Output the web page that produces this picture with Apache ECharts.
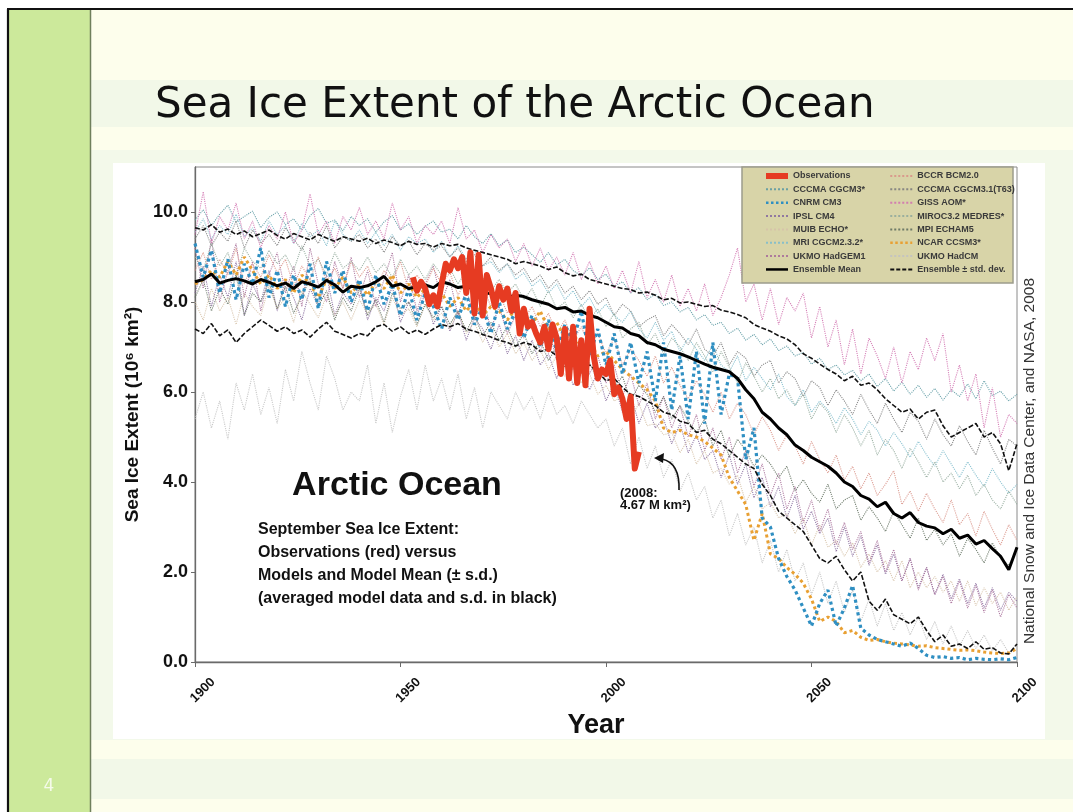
<!DOCTYPE html>
<html>
<head>
<meta charset="utf-8">
<script src="https://cdn.jsdelivr.net/npm/echarts@6/dist/echarts.min.js"></script>
<style>
  html, body { margin: 0; padding: 0; background: #ffffff; }
  #chart { width: 1073px; height: 812px; }
</style>
</head>
<body>
<div id="chart"></div>
<script>
// ---- Sea ice extent data, millions of km² (September) ----
// Model runs are sampled every second year, 1900–2100.
const MODEL_START = 1900;
const MODEL_STEP = 2;
const OBS_START = 1953;

const xTicks = [1900, 1950, 2000, 2050, 2100];
const yTicks = [0, 2, 4, 6, 8, 10];

// Observations, yearly 1953–2008
const observations = [
  8.55, 8.25, 8.45, 8.30, 7.95, 8.15, 7.90, 8.40, 8.85, 8.70,
  8.95, 8.75, 9.00, 8.20, 9.10, 7.75, 9.05, 7.70, 8.60, 8.30,
  7.90, 8.35, 8.05, 8.30, 7.80, 8.20, 7.30, 7.85, 7.45, 7.55,
  7.30, 7.10, 7.45, 6.95, 7.50, 7.20, 6.40, 7.40, 6.30, 7.45,
  6.20, 7.15, 6.15, 7.85, 6.80, 6.30, 6.50, 6.40, 6.70, 5.95,
  6.10, 5.85, 5.40, 5.90, 4.30, 4.67
];

const ensembleMean = [
  8.45, 8.50, 8.62, 8.42, 8.48, 8.52, 8.47, 8.40, 8.50, 8.44,
  8.36, 8.42, 8.30, 8.45, 8.40, 8.33, 8.48, 8.38, 8.22, 8.35,
  8.32, 8.36, 8.45, 8.57, 8.35, 8.40, 8.30, 8.34, 8.38, 8.32,
  8.45, 8.40, 8.32, 8.35, 8.28, 8.22, 8.18, 8.20, 8.10, 8.15,
  8.12, 8.05, 8.00, 7.95, 7.85, 7.88, 7.78, 7.80, 7.70, 7.65,
  7.55, 7.45, 7.42, 7.30, 7.25, 7.10, 7.05, 6.95, 6.90, 6.85,
  6.78, 6.70, 6.62, 6.55, 6.50, 6.45, 6.30, 6.05, 5.85, 5.55,
  5.40, 5.20, 5.05, 4.82, 4.70, 4.55, 4.45, 4.35, 4.20, 4.00,
  3.90, 3.70, 3.62, 3.45, 3.55, 3.30, 3.20, 3.32, 3.10, 3.02,
  2.98, 2.85, 2.95, 2.75, 2.82, 2.62, 2.70, 2.52, 2.35, 2.05,
  2.55
];

const ensembleUpper = [
  9.65, 9.60, 9.72, 9.55, 9.62, 9.50, 9.58, 9.45, 9.52, 9.60,
  9.48, 9.40, 9.52, 9.45, 9.38, 9.50, 9.42, 9.35, 9.45, 9.40,
  9.35, 9.42, 9.30, 9.38, 9.32, 9.25, 9.35, 9.28, 9.30, 9.22,
  9.30, 9.25, 9.28, 9.20, 9.15, 9.10, 9.05, 9.00, 8.95, 8.85,
  8.90, 8.85, 8.80, 8.72, 8.78, 8.65, 8.58, 8.62, 8.50, 8.45,
  8.40, 8.35, 8.30, 8.28, 8.20, 8.22, 8.15, 8.05, 8.08, 7.98,
  8.00, 7.95, 7.90, 7.92, 7.82, 7.78, 7.72, 7.65, 7.50, 7.42,
  7.35, 7.25, 7.18, 7.05, 6.85, 6.75, 6.62, 6.50, 6.40, 6.25,
  6.35, 6.15, 6.20, 6.05, 5.85, 5.70, 5.55, 5.62, 5.40, 5.55,
  5.60, 5.25, 5.00, 5.10, 5.20, 5.30, 5.00, 5.10, 4.85, 4.25,
  4.85
];

const ensembleLower = [
  7.40, 7.30, 7.52, 7.25, 7.38, 7.10, 7.30, 7.45, 7.60, 7.48,
  7.35, 7.45, 7.30, 7.38, 7.22, 7.40, 7.55, 7.35, 7.28, 7.20,
  7.30, 7.25, 7.45, 7.50, 7.35, 7.45, 7.30, 7.38, 7.28, 7.40,
  7.50, 7.45, 7.52, 7.40, 7.35, 7.28, 7.22, 7.15, 7.10, 7.02,
  7.10, 7.05, 6.90, 6.95, 6.80, 6.70, 6.75, 6.55, 6.60, 6.45,
  6.25, 6.30, 6.10, 5.95, 5.90, 5.80, 5.70, 5.55, 5.50, 5.35,
  5.30, 5.10, 5.15, 4.95, 4.85, 4.70, 4.55, 4.40, 4.30, 3.95,
  3.70, 3.35, 3.20, 3.05, 2.90, 2.60, 2.30, 2.20, 2.35, 2.05,
  1.80, 2.00, 1.35, 1.15, 1.40, 1.05, 0.95, 0.85, 1.00, 0.70,
  0.45, 0.60, 0.35, 0.40, 0.30, 0.45, 0.28, 0.32, 0.20, 0.18,
  0.40
];

// Individual model runs
const cccmaCgcm3 = [
  9.82, 10.05, 9.70, 9.95, 10.15, 9.78, 9.90, 10.02, 9.65, 9.88,
  10.00, 9.72, 9.85, 9.60, 9.92, 10.08, 9.75, 9.82, 9.58, 9.90,
  9.70, 9.85, 9.55, 9.78, 9.92, 9.60, 9.74, 9.50, 9.68, 9.80,
  9.55, 9.62, 9.40, 9.70, 9.45, 9.30, 9.52, 9.25, 9.38, 9.10,
  9.22, 9.05, 8.88, 9.10, 8.82, 8.95, 8.70, 8.58, 8.76, 8.50,
  8.62, 8.35, 8.45, 8.20, 8.32, 8.05, 8.18, 7.92, 8.00, 7.78,
  7.88, 7.60, 7.72, 7.48, 7.55, 7.30, 7.42, 7.15, 7.28, 7.05,
  7.18, 6.92, 7.02, 6.80, 6.88, 6.62, 6.75, 6.50, 6.60, 6.38,
  6.48, 6.25, 6.40, 6.12, 6.30, 6.02, 6.22, 5.95, 6.15, 5.88,
  6.08, 5.82, 6.05, 5.90, 6.18, 5.85, 6.25, 5.92, 6.02, 5.80,
  5.95
];

const cnrmCm3 = [
  9.30, 8.55, 9.15, 8.20, 8.95, 8.05, 8.85, 8.40, 9.20, 8.10,
  8.70, 7.90, 8.60, 8.05, 8.85, 7.85, 8.90, 8.20, 8.70, 8.00,
  8.50, 7.80, 8.60, 7.95, 8.40, 7.70, 8.30, 7.60, 8.20, 7.90,
  7.40, 8.10, 7.60, 8.20, 7.50, 7.90, 7.30, 8.00, 7.40, 7.80,
  7.20, 7.70, 7.00, 7.60, 6.90, 7.50, 7.10, 7.80, 6.80, 7.40,
  6.60, 7.30, 6.40, 7.10, 6.20, 6.90, 5.80, 7.10, 5.60, 6.80,
  5.40, 6.90, 5.30, 7.10, 5.50, 6.40, 6.30, 4.50, 5.20, 3.20,
  3.00, 2.30, 1.90, 1.60, 1.20, 0.80, 1.30, 1.60, 0.80, 1.20,
  1.70, 0.75, 0.60, 0.50, 0.45, 0.40, 0.35, 0.42, 0.30, 0.15,
  0.10, 0.12, 0.08, 0.10, 0.05, 0.08, 0.06, 0.05, 0.07, 0.05,
  0.10
];

const ipslCm4 = [
  8.20, 8.80, 7.90, 8.60, 8.10, 8.90, 7.70, 8.40, 8.00, 8.70,
  7.80, 8.50, 8.10, 7.60, 8.30, 7.90, 8.60, 7.70, 8.20, 7.95,
  8.40, 7.60, 8.10, 7.80, 8.35, 7.55, 8.00, 7.70, 8.20, 7.50,
  7.90, 7.35, 7.80, 7.15, 7.65, 7.40, 6.95, 7.50, 6.85, 7.25,
  6.70, 7.15, 6.60, 6.85, 6.30, 6.80, 6.15, 6.50, 6.05, 6.45,
  5.80, 6.20, 5.55, 5.95, 5.30, 5.75, 5.20, 5.40, 4.85, 5.30,
  4.65, 5.05, 4.50, 4.70, 4.10, 4.60, 3.95, 4.40, 3.65, 4.10,
  3.45, 3.90, 3.20, 3.70, 2.95, 3.35, 2.85, 3.20, 2.45, 3.00,
  2.35, 2.80, 2.15, 2.60, 1.95, 2.40, 1.80, 2.30, 1.65, 2.10,
  1.50, 1.95, 1.40, 1.85, 1.30, 1.75, 1.20, 1.65, 1.15, 1.55,
  1.35
];

const muibEcho = [
  8.00, 7.60, 8.30, 7.80, 8.10, 7.50, 8.20, 7.90, 7.70, 8.35,
  7.85, 8.10, 7.55, 8.25, 7.95, 7.65, 8.15, 7.70, 8.00, 7.60,
  8.05, 7.75, 7.95, 7.50, 8.10, 7.70, 7.85, 7.45, 7.95, 7.60,
  7.75, 7.40, 7.80, 7.30, 7.55, 7.10, 7.45, 7.00, 7.30, 6.85,
  7.10, 6.70, 6.95, 6.50, 6.80, 6.35, 6.60, 6.20, 6.40, 5.95,
  6.15, 5.80, 5.90, 5.40, 5.75, 5.25, 5.30, 5.05, 5.10, 4.65,
  4.95, 4.40, 4.70, 4.20, 4.30, 3.95, 4.15, 3.55, 3.90, 3.40,
  3.55, 3.20, 3.30, 2.85, 3.20, 2.60, 3.05, 2.55, 2.70, 2.35,
  2.65, 2.10, 2.40, 2.00, 2.25, 1.80, 2.25, 1.65, 2.00, 1.65,
  1.90, 1.55, 1.80, 1.35, 1.80, 1.25, 1.65, 1.30, 1.55, 1.15,
  1.45
];

const mriCgcm232 = [
  9.55, 9.85, 9.40, 9.70, 9.50, 9.95, 9.45, 9.65, 9.35, 9.80,
  9.50, 9.70, 9.30, 9.75, 9.45, 9.60, 9.25, 9.80, 9.50, 9.35,
  9.60, 9.30, 9.55, 9.25, 9.50, 9.15, 9.45, 9.30, 9.40, 9.10,
  9.35, 9.00, 9.25, 8.95, 9.15, 8.80, 8.90, 8.65, 8.85, 8.50,
  8.65, 8.35, 8.50, 8.20, 8.40, 8.05, 8.25, 7.90, 8.10, 7.75,
  7.95, 7.70, 7.55, 7.80, 7.40, 7.20, 7.55, 7.15, 7.35, 6.90,
  7.20, 6.95, 6.70, 7.05, 6.60, 6.45, 6.80, 6.25, 6.55, 6.30,
  6.05, 6.40, 5.90, 5.70, 6.05, 5.55, 5.80, 5.60, 5.30, 5.65,
  5.40, 5.05, 5.35, 5.15, 4.80, 5.10, 4.85, 4.55, 4.90, 4.60,
  4.35, 4.70, 4.40, 4.10, 4.45, 4.15, 3.90, 4.30, 4.00, 3.75,
  3.95
];

const ukmoHadgem1 = [
  9.20, 8.30, 9.40, 8.00, 8.70, 9.30, 8.10, 8.90, 7.80, 8.60,
  9.10, 8.20, 8.80, 7.90, 9.20, 8.40, 8.00, 8.90, 8.30, 9.00,
  8.10, 8.70, 7.90, 8.50, 9.10, 8.00, 8.60, 7.80, 8.40, 8.80,
  8.00, 8.50, 7.70, 8.30, 7.60, 8.10, 7.40, 7.90, 7.30, 7.70,
  7.20, 7.60, 6.90, 7.40, 6.70, 7.20, 6.50, 7.00, 6.40, 6.80,
  6.20, 6.60, 5.90, 6.40, 5.70, 6.20, 5.40, 5.90, 5.20, 5.70,
  5.00, 5.50, 4.70, 5.20, 4.50, 5.00, 4.20, 4.70, 3.90, 4.40,
  3.70, 4.20, 3.40, 3.90, 3.10, 3.60, 2.90, 3.40, 2.60, 3.10,
  2.50, 2.90, 2.20, 2.70, 2.00, 2.50, 1.80, 2.30, 1.60, 2.10,
  1.50, 1.90, 1.30, 1.80, 1.20, 1.70, 1.10, 1.60, 1.00, 1.50,
  1.20
];

const bccrBcm2 = [
  8.70, 9.10, 8.50, 8.95, 8.60, 9.20, 8.40, 8.85, 8.55, 9.05,
  8.65, 8.95, 8.35, 8.80, 8.50, 9.00, 8.45, 8.75, 8.30, 8.90,
  8.55, 8.80, 8.30, 8.70, 8.45, 8.90, 8.25, 8.60, 8.35, 8.75,
  8.40, 8.65, 8.15, 8.50, 8.05, 8.35, 7.90, 8.20, 7.75, 8.05,
  7.60, 7.90, 7.45, 7.75, 7.30, 7.60, 7.15, 7.45, 7.00, 7.30,
  6.85, 7.20, 6.60, 6.95, 6.70, 6.35, 6.80, 6.20, 6.55, 6.15,
  5.85, 6.25, 5.95, 5.55, 6.00, 5.40, 5.75, 5.50, 5.05, 5.45,
  5.15, 4.70, 5.05, 4.80, 4.40, 4.90, 4.50, 4.20, 4.60, 4.05,
  4.35, 3.85, 4.20, 3.70, 3.95, 4.25, 3.50, 3.80, 3.35, 3.75,
  3.40, 3.10, 3.60, 3.05, 3.30, 2.80, 3.35, 2.95, 2.60, 3.05,
  2.70
];

const cccmaT63 = [
  9.40, 9.70, 9.25, 9.55, 9.35, 9.80, 9.20, 9.60, 9.30, 9.50,
  9.25, 9.65, 9.40, 9.15, 9.55, 9.30, 9.70, 9.20, 9.45, 9.35,
  9.50, 9.20, 9.40, 9.10, 9.45, 9.25, 9.35, 9.05, 9.30, 9.15,
  9.25, 9.00, 9.20, 8.90, 9.05, 8.80, 9.00, 8.70, 8.85, 8.60,
  8.75, 8.45, 8.60, 8.30, 8.50, 8.20, 8.35, 8.05, 8.25, 7.95,
  8.10, 7.70, 7.95, 7.80, 7.45, 7.60, 7.70, 7.25, 7.50, 7.30,
  7.05, 7.40, 6.95, 6.80, 7.10, 6.60, 6.90, 6.75, 6.35, 6.60,
  6.70, 6.20, 6.45, 6.30, 5.90, 6.25, 6.10, 5.70, 6.05, 5.80,
  5.50, 5.95, 5.60, 5.30, 5.75, 5.40, 5.10, 5.55, 5.35, 4.95,
  5.40, 5.05, 4.80, 5.25, 4.90, 4.60, 5.15, 4.75, 4.40, 4.95,
  4.80
];

const gissAom = [
  9.50, 10.45, 9.30, 9.90, 9.60, 10.20, 9.40, 9.80, 9.20, 9.70,
  9.40, 10.00, 9.30, 9.60, 10.40, 9.50, 9.80, 9.30, 9.90, 9.60,
  10.10, 9.50, 9.80, 9.40, 10.20, 9.60, 9.90, 9.30, 9.70, 9.50,
  9.80, 9.30, 10.10, 9.40, 9.60, 9.10, 9.50, 9.20, 9.40, 8.90,
  9.30, 8.80, 9.20, 8.70, 9.00, 8.60, 9.10, 8.50, 8.90, 8.40,
  8.80, 8.30, 8.70, 8.20, 8.90, 8.10, 8.50, 8.00, 8.60, 7.90,
  8.30, 7.80, 8.40, 7.70, 8.10, 8.60, 9.20, 8.00, 8.40, 7.60,
  8.30, 7.50, 8.10, 7.80, 8.20, 7.20, 7.90, 7.00, 7.60, 6.60,
  7.40, 6.40, 7.20, 6.80, 6.30, 7.00, 6.20, 6.90, 6.50, 7.20,
  6.70, 7.30, 6.00, 6.60, 5.80, 6.40, 5.20, 6.10, 5.00, 5.50,
  5.30
];

const mirocMedres = [
  9.00, 8.70, 9.30, 8.80, 9.10, 8.55, 9.20, 8.90, 8.75, 9.15,
  8.85, 9.05, 8.70, 9.25, 8.80, 8.95, 8.60, 9.10, 8.75, 8.90,
  8.70, 9.00, 8.65, 8.85, 8.55, 8.95, 8.60, 8.80, 8.50, 8.85,
  8.60, 8.75, 8.40, 8.70, 8.45, 8.55, 8.25, 8.50, 8.20, 8.40,
  8.05, 8.30, 7.90, 8.25, 7.85, 8.00, 7.65, 7.95, 7.60, 7.85,
  7.45, 7.75, 7.20, 7.40, 7.55, 7.05, 7.30, 6.85, 7.20, 7.00,
  6.70, 7.10, 6.80, 6.45, 6.90, 6.55, 6.20, 6.65, 6.35, 6.00,
  6.30, 5.85, 6.05, 5.70, 5.95, 5.40, 5.75, 5.55, 5.10, 5.50,
  5.20, 4.80, 5.15, 4.60, 4.95, 4.70, 4.30, 4.75, 4.45, 4.10,
  4.45, 4.00, 4.20, 3.85, 4.15, 3.70, 3.95, 3.60, 3.40, 3.80,
  3.50
];

const mpiEcham5 = [
  8.10, 8.50, 7.80, 8.30, 7.95, 8.60, 7.70, 8.20, 8.00, 8.45,
  7.85, 8.35, 7.75, 8.15, 8.50, 7.90, 8.25, 7.60, 8.10, 7.80,
  8.30, 7.70, 8.05, 7.55, 8.20, 7.85, 8.00, 7.50, 7.95, 7.65,
  7.90, 7.50, 7.80, 7.35, 7.70, 7.25, 7.55, 7.15, 7.45, 7.00,
  7.30, 6.85, 7.15, 6.70, 7.00, 6.55, 6.85, 6.40, 6.65, 6.25,
  6.50, 6.10, 6.35, 5.80, 6.15, 5.95, 5.55, 5.90, 5.40, 5.70,
  5.35, 5.10, 5.40, 4.80, 5.15, 4.55, 4.95, 4.70, 4.35, 4.60,
  4.40, 4.10, 4.35, 3.80, 4.05, 3.75, 3.55, 3.95, 3.40, 3.60,
  3.70, 3.15, 3.45, 3.20, 2.90, 3.35, 3.05, 2.75, 3.20, 2.70,
  2.95, 2.60, 2.85, 2.35, 2.75, 2.50, 2.20, 2.65, 2.30, 2.15,
  2.50
];

const ncarCcsm3 = [
  8.40, 8.50, 8.70, 8.55, 8.90, 8.60, 9.00, 8.70, 8.40, 8.60,
  8.30, 8.50, 8.20, 8.60, 8.40, 8.10, 8.50, 8.30, 8.55, 8.20,
  8.40, 8.15, 8.45, 8.30, 8.60, 8.20, 8.40, 8.10, 8.30, 8.00,
  8.20, 7.90, 8.10, 7.80, 8.00, 7.70, 7.90, 7.80, 7.60, 7.85,
  7.70, 7.50, 7.80, 7.40, 7.55, 7.20, 7.30, 7.00, 7.10, 6.80,
  6.90, 6.70, 6.50, 6.35, 6.20, 6.05, 5.80, 5.20, 5.10, 5.15,
  5.05, 5.00, 4.90, 4.75, 4.60, 4.10, 3.80, 3.50, 2.70, 3.30,
  2.40, 2.30, 2.10, 1.95, 1.75, 1.40, 0.90, 1.00, 0.90, 0.65,
  0.70, 0.55, 0.48, 0.50, 0.45, 0.42, 0.40, 0.38, 0.35, 0.36,
  0.32, 0.30, 0.28, 0.26, 0.27, 0.25, 0.22, 0.20, 0.19, 0.20,
  0.30
];

const ukmoHadcm = [
  5.40, 6.00, 5.20, 5.80, 4.95, 6.20, 5.60, 6.40, 5.50, 6.10,
  5.30, 6.50, 5.80, 6.90, 6.20, 5.60, 6.80, 6.30, 5.60, 6.00,
  5.80, 6.60, 5.30, 6.20, 5.10, 5.90, 6.50, 5.60, 6.60, 5.80,
  6.30, 5.60, 6.40, 5.40, 6.10, 5.20, 6.00, 5.70, 5.40, 6.00,
  5.60, 5.90, 5.40, 6.00, 5.50, 5.70, 5.30, 5.80, 5.50, 5.20,
  5.40, 4.80, 5.20, 4.40, 5.00, 4.30, 4.80, 4.10, 4.50, 3.80,
  4.20, 3.60, 3.90, 3.20, 3.60, 2.80, 3.30, 2.60, 3.00, 2.20,
  2.70, 2.00, 2.50, 1.80, 2.20, 1.50, 2.00, 1.30, 1.80, 1.10,
  1.60, 0.90, 1.40, 0.80, 1.30, 0.70, 1.10, 0.60, 1.00, 0.50,
  0.90, 0.40, 0.80, 0.35, 0.70, 0.30, 0.60, 0.25, 0.50, 0.20,
  0.40
];

// ---- series styling ----
const models = [
  { name: 'CCCMA CGCM3*',        data: cccmaCgcm3,  color: '#5d9aa3' },
  { name: 'IPSL CM4',            data: ipslCm4,     color: '#8a6e9e' },
  { name: 'MUIB ECHO*',          data: muibEcho,    color: '#d6c2a8' },
  { name: 'MRI CGCM2.3.2*',      data: mriCgcm232,  color: '#7fbccc' },
  { name: 'UKMO HadGEM1',        data: ukmoHadgem1, color: '#a8709a' },
  { name: 'BCCR BCM2.0',         data: bccrBcm2,    color: '#d99488' },
  { name: 'CCCMA CGCM3.1(T63)',  data: cccmaT63,    color: '#7e7e7e' },
  { name: 'GISS AOM*',           data: gissAom,     color: '#d173b0' },
  { name: 'MIROC3.2 MEDRES*',    data: mirocMedres, color: '#94ab9c' },
  { name: 'MPI ECHAM5',          data: mpiEcham5,   color: '#62705f' },
  { name: 'UKMO HadCM',          data: ukmoHadcm,   color: '#c2c2c2' }
];

function modelPairs(values) {
  return values.map((v, i) => [MODEL_START + i * MODEL_STEP, v]);
}

const series = models.map(m => ({
  name: m.name, type: 'line', symbol: 'none', silent: true,
  data: modelPairs(m.data),
  lineStyle: { color: m.color, width: 1.1, type: 'dotted', opacity: 0.9 },
  itemStyle: { color: m.color }
}));

series.push(
  { name: 'NCAR CCSM3*', type: 'line', symbol: 'none', silent: true,
    data: modelPairs(ncarCcsm3),
    lineStyle: { color: '#e8a033', width: 3, type: 'dotted' }, itemStyle: { color: '#e8a033' } },
  { name: 'CNRM CM3', type: 'line', symbol: 'none', silent: true,
    data: modelPairs(cnrmCm3),
    lineStyle: { color: '#2f8fc2', width: 3.2, type: 'dotted' }, itemStyle: { color: '#2f8fc2' } },
  { name: 'Ensemble ± std. dev.', type: 'line', symbol: 'none', silent: true,
    data: modelPairs(ensembleUpper),
    lineStyle: { color: '#111', width: 1.6, type: [5, 2] }, itemStyle: { color: '#111' } },
  { name: 'Ensemble ± std. dev.', type: 'line', symbol: 'none', silent: true,
    data: modelPairs(ensembleLower),
    lineStyle: { color: '#111', width: 1.6, type: [5, 2] }, itemStyle: { color: '#111' } },
  { name: 'Ensemble Mean', type: 'line', symbol: 'none', silent: true,
    data: modelPairs(ensembleMean),
    lineStyle: { color: '#000', width: 3 }, itemStyle: { color: '#000' } },
  { name: 'Observations', type: 'line', symbol: 'none', silent: true,
    data: observations.map((v, i) => [OBS_START + i, v]),
    lineStyle: { color: '#e63b22', width: 6, join: 'round' }, itemStyle: { color: '#e63b22' } }
);

// legend keys; heavier strokes get their own sample width
const legendLeft = [
  { name: 'Observations', lineStyle: { width: 6 } },
  'CCCMA CGCM3*',
  { name: 'CNRM CM3', lineStyle: { width: 2.5 } },
  'IPSL CM4', 'MUIB ECHO*', 'MRI CGCM2.3.2*', 'UKMO HadGEM1',
  { name: 'Ensemble Mean', lineStyle: { width: 2.5 } }
];
const legendRight = [
  'BCCR BCM2.0', 'CCCMA CGCM3.1(T63)', 'GISS AOM*', 'MIROC3.2 MEDRES*', 'MPI ECHAM5',
  { name: 'NCAR CCSM3*', lineStyle: { width: 2.5 } },
  'UKMO HadCM',
  { name: 'Ensemble ± std. dev.', lineStyle: { width: 2, type: [4, 2] } }
];

const SANS = '"Liberation Sans", Arial, Helvetica, sans-serif';
const legendText = { fontFamily: SANS, fontSize: 9, fontWeight: 'bold', color: '#3a3a3a', lineHeight: 10 };
const legendCommon = {
  orient: 'vertical', padding: 0, itemWidth: 22, itemHeight: 10, itemGap: 3.35,
  selectedMode: false, textStyle: legendText, z: 6,
  itemStyle: { opacity: 0 }
};

const chart = echarts.init(document.getElementById('chart'), null, { renderer: 'canvas' });

chart.setOption({
  animation: false,
  backgroundColor: '#fdfeec',
  textStyle: { fontFamily: SANS },
  grid: {
    left: 195, top: 167, width: 822, height: 495,
    show: true, borderColor: '#8a8a8a', borderWidth: 1, backgroundColor: '#ffffff'
  },
  xAxis: {
    type: 'value', min: 1900, max: 2100, interval: 50,
    name: 'Year', nameLocation: 'middle', nameGap: 36,
    nameTextStyle: { fontFamily: SANS, fontSize: 27, fontWeight: 'bold', color: '#111', padding: [0, 20, 0, 0] },
    axisLine: { show: true, lineStyle: { color: '#6a6a6a', width: 1.3 } },
    axisTick: { show: true, inside: false, length: 5, customValues: xTicks, lineStyle: { color: '#6a6a6a' } },
    axisLabel: {
      customValues: xTicks, rotate: 45, margin: 36,
      align: 'center', verticalAlign: 'middle', padding: [0, 0, 0, 22],
      fontFamily: SANS, fontSize: 13, fontWeight: 'bold', color: '#111',
      formatter: v => String(v)
    },
    splitLine: { show: false }
  },
  yAxis: {
    type: 'value', min: 0, max: 11, interval: 2,
    name: 'Sea Ice Extent (10⁶ km²)', nameLocation: 'middle', nameGap: 38,
    nameTextStyle: { fontFamily: SANS, fontSize: 19, fontWeight: 'bold', color: '#111' },
    axisLine: { show: true, lineStyle: { color: '#6a6a6a', width: 1.3 } },
    axisTick: { show: true, inside: false, length: 4, customValues: yTicks, lineStyle: { color: '#6a6a6a' } },
    axisLabel: {
      customValues: yTicks, margin: 7,
      fontFamily: SANS, fontSize: 18, fontWeight: 'bold', color: '#111',
      formatter: v => v.toFixed(1)
    },
    splitLine: { show: false }
  },
  legend: [
    Object.assign({ left: 763, top: 171, data: legendLeft }, legendCommon),
    Object.assign({ left: 889, top: 171, data: legendRight }, legendCommon)
  ],
  graphic: [
    // slide background bands
    { type: 'rect', z: -20, silent: true, shape: { x: 91, y: 80, width: 982, height: 47 }, style: { fill: '#f2f8e8' } },
    { type: 'rect', z: -20, silent: true, shape: { x: 91, y: 150, width: 982, height: 590 }, style: { fill: '#f3f9ea' } },
    { type: 'rect', z: -20, silent: true, shape: { x: 91, y: 759, width: 982, height: 40 }, style: { fill: '#f2f8e8' } },
    // white panel holding the plot
    { type: 'rect', z: -10, silent: true, shape: { x: 113, y: 163, width: 932, height: 576 }, style: { fill: '#ffffff' } },
    // outer white margin, frame and green side bar
    { type: 'rect', z: -20, silent: true, shape: { x: 0, y: 0, width: 1073, height: 8 }, style: { fill: '#ffffff' } },
    { type: 'rect', z: -20, silent: true, shape: { x: 0, y: 0, width: 7, height: 812 }, style: { fill: '#ffffff' } },
    { type: 'rect', z: -19, silent: true, shape: { x: 9, y: 10, width: 81, height: 802 }, style: { fill: '#cce99b' } },
    { type: 'line', z: -18, silent: true, shape: { x1: 90.5, y1: 10, x2: 90.5, y2: 812 }, style: { stroke: '#6f7f5c', lineWidth: 1.5 } },
    { type: 'line', z: -18, silent: true, shape: { x1: 8, y1: 9, x2: 8, y2: 812 }, style: { stroke: '#111', lineWidth: 2.2 } },
    { type: 'line', z: -18, silent: true, shape: { x1: 7, y1: 9, x2: 1073, y2: 9 }, style: { stroke: '#111', lineWidth: 2.2 } },
    { type: 'text', z: 10, silent: true, style: { x: 49, y: 787, text: '4', fill: '#f5faea', font: '17px "DejaVu Sans", Verdana, sans-serif', align: 'center', verticalAlign: 'middle' } },
    // slide title
    { type: 'text', z: 10, silent: true, style: { x: 155, y: 106, text: 'Sea Ice Extent of the Arctic Ocean', fill: '#111', font: '42px "DejaVu Sans", Verdana, sans-serif', align: 'left', verticalAlign: 'middle' } },
    // legend panel
    { type: 'rect', z: 5, silent: true, shape: { x: 742, y: 167, width: 271, height: 116 }, style: { fill: '#d8d4a8', stroke: '#9c9c8c', lineWidth: 1.5 } },
    // panel captions
    { type: 'text', z: 10, silent: true, style: { x: 397, y: 486, text: 'Arctic Ocean', fill: '#111', font: 'bold 34px "Liberation Sans", Arial, sans-serif', align: 'center', verticalAlign: 'middle' } },
    { type: 'text', z: 10, silent: true, style: { x: 258, y: 518, text: 'September Sea Ice Extent:\nObservations (red) versus\nModels and Model Mean (± s.d.)\n(averaged model data and s.d. in black)', fill: '#111', font: 'bold 16px "Liberation Sans", Arial, sans-serif', lineHeight: 23, align: 'left', verticalAlign: 'top' } },
    { type: 'text', z: 10, silent: true, style: { x: 620, y: 488, text: '(2008:\n4.67 M km²)', fill: '#111', font: 'bold 13px "Liberation Sans", Arial, sans-serif', lineHeight: 11.5, align: 'left', verticalAlign: 'top' } },
    { type: 'bezierCurve', z: 10, silent: true, shape: { x1: 679, y1: 490, cpx1: 680, cpy1: 463, x2: 662, y2: 459 }, style: { stroke: '#111', lineWidth: 1.6, fill: null } },
    { type: 'polygon', z: 10, silent: true, shape: { points: [[654, 458], [664, 453], [663, 463]] }, style: { fill: '#111' } },
    { type: 'text', z: 10, silent: true, rotation: Math.PI / 2, x: 1030, y: 461, style: { x: 0, y: 0, text: 'National Snow and Ice Data Center, and NASA, 2008', fill: '#333', font: '15.5px "Liberation Sans", Arial, sans-serif', align: 'center', verticalAlign: 'middle' } }
  ],
  series: series
});
</script>
</body>
</html>
